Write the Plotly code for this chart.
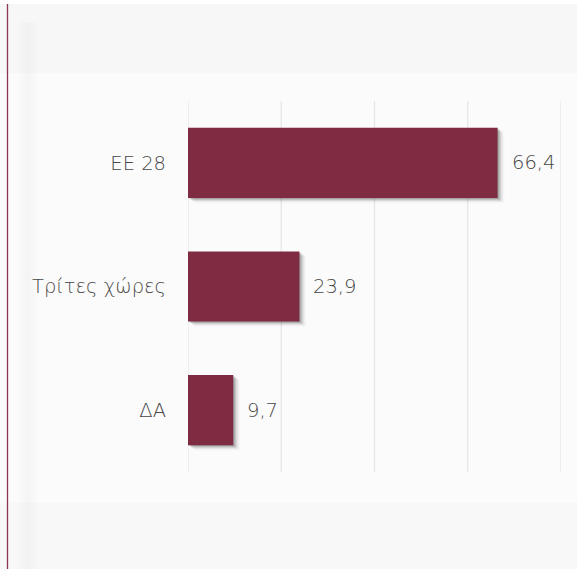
import plotly.graph_objects as go

# Data
categories = ["EE 28", "Τρίτες χώρες", "ΔΑ"]
values = [66.4, 23.9, 9.7]
grid_values = [0, 20, 40, 60, 80]

W, H = 577, 569
# plot area in pixels
L, R, T, B = 188, 561, 101, 472
X_MAX = 80
BAR_W = 0.567

def px_x(p):
    return (p - L) / (R - L)

def px_y(p):
    return (B - p) / (B - T)

x_per_px = X_MAX / (R - L)
cat_per_px = 1 / ((B - T) / len(categories))

bar_color = "#7f2b42"
text_color = "#474747"
font_family = "DejaVu Sans"
font_weight = 200
font_size = 19.5

fig = go.Figure()

# soft drop shadow under each bar
for k, a in [(1, 0.16), (2, 0.13), (3, 0.10), (4, 0.07), (5, 0.045), (6, 0.03), (7, 0.015)]:
    fig.add_trace(go.Bar(
        y=categories, x=values, orientation="h",
        base=[k * x_per_px] * len(values),
        width=BAR_W, offset=-BAR_W / 2 + k * cat_per_px * 0.75,
        marker=dict(color=f"rgba(50,50,50,{a})", line=dict(width=0)),
        hoverinfo="skip", showlegend=False,
    ))

fig.add_trace(go.Bar(
    y=categories, x=values, orientation="h",
    width=BAR_W, offset=-BAR_W / 2,
    marker=dict(color=bar_color, line=dict(width=0)),
    showlegend=False,
))

# value labels
annotations = []
for c, v in zip(categories, values):
    annotations.append(dict(
        x=v, y=c, xref="x", yref="y", xanchor="left", yanchor="middle",
        xshift=12, showarrow=False,
        text=f"{v:.1f}".replace(".", ","),
        font=dict(family=font_family, size=font_size, color=text_color, weight=font_weight),
    ))

shapes = [
    # page bands
    dict(type="rect", xref="paper", yref="paper", layer="below",
         x0=px_x(0), x1=px_x(W), y0=px_y(0), y1=px_y(4),
         fillcolor="#ffffff", line=dict(width=0)),
    dict(type="rect", xref="paper", yref="paper", layer="below",
         x0=px_x(0), x1=px_x(W), y0=px_y(4), y1=px_y(73),
         fillcolor="#f7f7f7", line=dict(width=0)),
    dict(type="rect", xref="paper", yref="paper", layer="below",
         x0=px_x(0), x1=px_x(W), y0=px_y(503), y1=px_y(H),
         fillcolor="#f8f8f8", line=dict(width=0)),
]
# vertical grid lines
for g in grid_values:
    shapes.append(dict(type="line", xref="x", yref="paper", layer="below",
                       x0=g, x1=g, y0=0, y1=1,
                       line=dict(color="#e4e4e4", width=1.2)))
# faint vertical shading near the left edge
for x0, x1, a in [(19, 37, 0.006), (22, 34, 0.006), (25, 31, 0.006)]:
    shapes.append(dict(type="rect", xref="paper", yref="paper", layer="below",
                       x0=px_x(x0), x1=px_x(x1), y0=px_y(H), y1=px_y(22),
                       fillcolor=f"rgba(0,0,0,{a})", line=dict(width=0)))
# left accent rule
shapes.append(dict(type="line", xref="paper", yref="paper",
                   x0=px_x(7.5), x1=px_x(7.5), y0=px_y(4), y1=px_y(H),
                   line=dict(color="#8f3556", width=1.3)))

fig.update_layout(
    width=W, height=H,
    margin=dict(l=L, r=W - R, t=T, b=H - B, pad=0),
    paper_bgcolor="#fbfbfb", plot_bgcolor="rgba(0,0,0,0)",
    barmode="overlay", separators=",.",
    font=dict(family=font_family, size=font_size, color=text_color, weight=font_weight),
    xaxis=dict(range=[0, X_MAX], showgrid=False, zeroline=False, showline=False,
               showticklabels=False, fixedrange=True),
    yaxis=dict(autorange="reversed", showgrid=False, zeroline=False, showline=False,
               ticks="", ticklabelstandoff=21,
               tickfont=dict(family=font_family, size=font_size, color=text_color,
                             weight=font_weight)),
    annotations=annotations,
    shapes=shapes,
)

fig.write_html("out.html")
